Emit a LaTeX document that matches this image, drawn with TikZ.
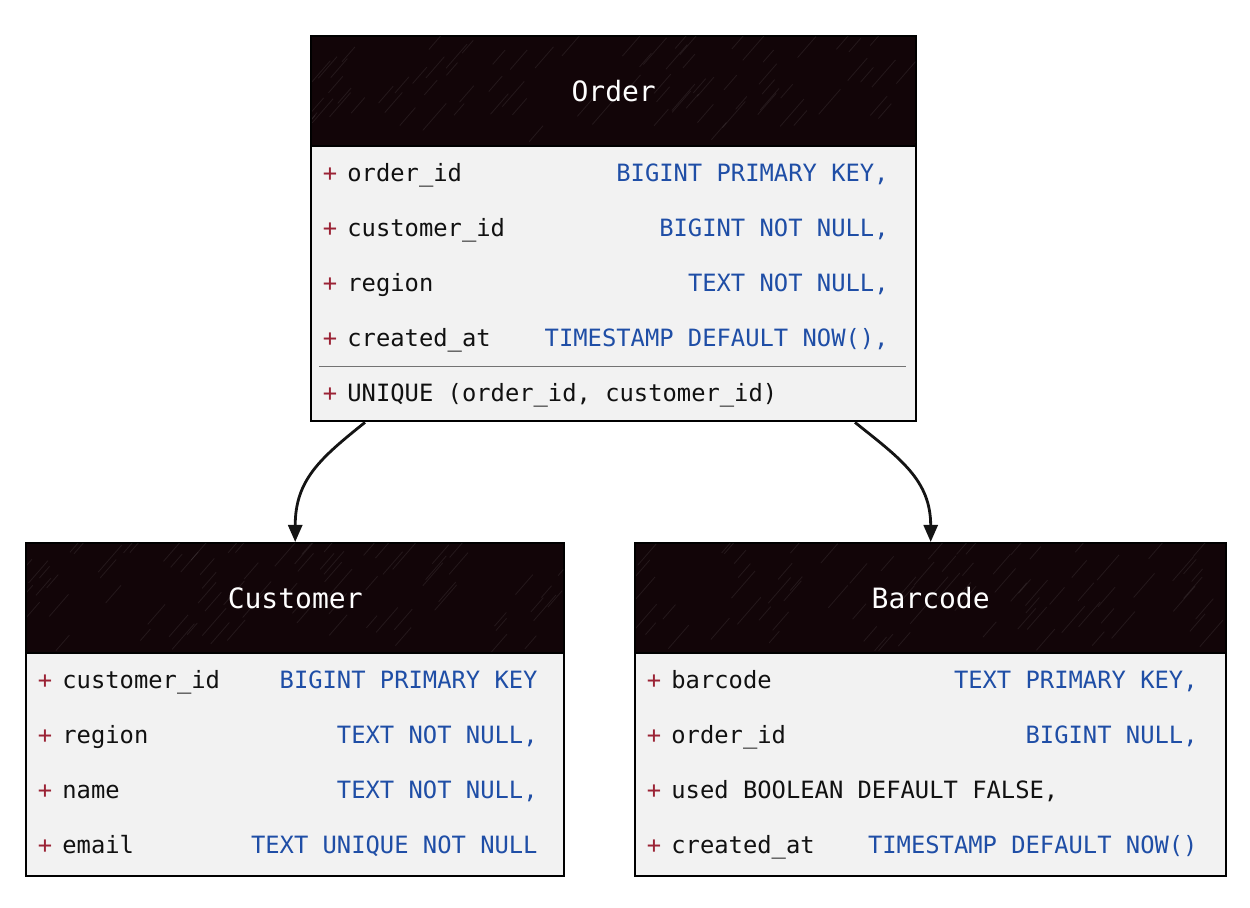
\documentclass[tikz,border=0pt]{standalone}
\usepackage{fontspec}
\setmonofont{DejaVu Sans Mono}
\usetikzlibrary{arrows.meta,calc}
\definecolor{hdr}{HTML}{120508}
\definecolor{bodybg}{HTML}{F2F2F2}
\definecolor{plusc}{HTML}{9B2335}
\definecolor{typc}{HTML}{1F4EA6}
\definecolor{txtc}{HTML}{111111}
\tikzset{
  tbl/.style={draw=black, fill=bodybg, line width=1.2pt, rectangle, inner sep=0pt, anchor=north west},
  hdrbox/.style={draw=black, fill=hdr, line width=1.2pt, rectangle, inner sep=0pt, anchor=north west},
  hdrtext/.style={text=white, font=\ttfamily\fontsize{14}{16}\selectfont, inner sep=0pt},
  plusm/.style={text=plusc, font=\ttfamily\fontsize{11.9}{14}\selectfont, inner sep=0pt, anchor=mid},
  fname/.style={text=txtc, font=\ttfamily\fontsize{11.9}{14}\selectfont, inner sep=0pt, anchor=mid west},
  ftype/.style={text=typc, font=\ttfamily\fontsize{11.9}{14}\selectfont, inner sep=0pt, anchor=mid east},
  conn/.style={draw=black!92, line width=1.4pt, -{Triangle[width=7pt,length=8.5pt]}},
  hatch/.style={draw=white, opacity=0.08, line width=0.4pt},
}
\begin{document}
\begin{tikzpicture}[x=0.5pt,y=-0.5pt]
\useasboundingbox (0,0) rectangle (1250,908);
% ---------- table boxes
\node[tbl, minimum width=302.5pt, minimum height=192.5pt] (order) at (310,35) {};
\node[hdrbox, minimum width=302.5pt, minimum height=55pt] (orderH) at (order.north west) {};
\node[tbl, minimum width=269pt, minimum height=166.5pt] (customer) at (25,542) {};
\node[hdrbox, minimum width=269pt, minimum height=55pt] (customerH) at (customer.north west) {};
\node[tbl, minimum width=295.5pt, minimum height=166.5pt] (barcode) at (634,542) {};
\node[hdrbox, minimum width=295.5pt, minimum height=55pt] (barcodeH) at (barcode.north west) {};
% ---------- faint hatching in headers
\pgfmathsetseed{11}
\foreach \h/\w in {orderH/605, customerH/538, barcodeH/591}{
  \begin{scope}
    \clip ($(\h.north west)+(2,2)$) rectangle ($(\h.south east)+(-2,-2)$);
    \foreach \k in {1,...,80}{
      \pgfmathsetmacro\hx{rnd*(\w+20)-10}
      \pgfmathsetmacro\hy{rnd*100+10}
      \pgfmathsetmacro\hl{rnd*14+10}
      \draw[hatch] ($(\h.north west)+(\hx,\hy)$) -- ++(\hl,-1.15*\hl);
    }
  \end{scope}
}
\node[hdrtext] (orderT) at (orderH.center) {Order};
\node[hdrtext] (customerT) at (customerH.center) {Customer};
\node[hdrtext] (barcodeT) at (barcodeH.center) {Barcode};
% ---------- Order rows
\node[plusm] (o1p) at (330,177) {+};
\node[fname] (o1n) at (347,177) {order\_id};
\node[ftype] (o1t) at (889,177) {BIGINT PRIMARY KEY,};
\node[plusm] (o2p) at (330,232) {+};
\node[fname] (o2n) at (347,232) {customer\_id};
\node[ftype] (o2t) at (889,232) {BIGINT NOT NULL,};
\node[plusm] (o3p) at (330,287) {+};
\node[fname] (o3n) at (347,287) {region};
\node[ftype] (o3t) at (889,287) {TEXT NOT NULL,};
\node[plusm] (o4p) at (330,342) {+};
\node[fname] (o4n) at (347,342) {created\_at};
\node[ftype] (o4t) at (889,342) {TIMESTAMP DEFAULT NOW(),};
\coordinate (sepL) at (319,366);
\coordinate (sepR) at (906,366);
\draw[black!55, line width=0.4pt] (sepL) -- (sepR);
\node[plusm] (o5p) at (330,397) {+};
\node[fname] (o5n) at (347,397) {UNIQUE (order\_id, customer\_id)};
% ---------- Customer rows
\node[plusm] (c1p) at (45,684) {+};
\node[fname] (c1n) at (62,684) {customer\_id};
\node[ftype] (c1t) at (538,684) {BIGINT PRIMARY KEY};
\node[plusm] (c2p) at (45,739) {+};
\node[fname] (c2n) at (62,739) {region};
\node[ftype] (c2t) at (538,739) {TEXT NOT NULL,};
\node[plusm] (c3p) at (45,794) {+};
\node[fname] (c3n) at (62,794) {name};
\node[ftype] (c3t) at (538,794) {TEXT NOT NULL,};
\node[plusm] (c4p) at (45,849) {+};
\node[fname] (c4n) at (62,849) {email};
\node[ftype] (c4t) at (538,849) {TEXT UNIQUE NOT NULL};
% ---------- Barcode rows
\node[plusm] (b1p) at (654,684) {+};
\node[fname] (b1n) at (671,684) {barcode};
\node[ftype] (b1t) at (1198,684) {TEXT PRIMARY KEY,};
\node[plusm] (b2p) at (654,739) {+};
\node[fname] (b2n) at (671,739) {order\_id};
\node[ftype] (b2t) at (1198,739) {BIGINT NULL,};
\node[plusm] (b3p) at (654,794) {+};
\node[fname] (b3n) at (671,794) {used BOOLEAN DEFAULT FALSE,};
\node[plusm] (b4p) at (654,849) {+};
\node[fname] (b4n) at (671,849) {created\_at};
\node[ftype] (b4t) at (1198,849) {TIMESTAMP DEFAULT NOW()};
% ---------- connectors
\coordinate (oL) at ($(order.south west)+(55,0)$);
\coordinate (oR) at ($(order.south west)+(545,0)$);
\draw[conn] (oL) .. controls ($(oL)+(-45,36)$) and ($(customerH.north)+(0,-62)$) .. (customerH.north);
\draw[conn] (oR) .. controls ($(oR)+(45,36)$) and ($(barcodeH.north)+(0,-62)$) .. (barcodeH.north);
\end{tikzpicture}
\end{document}
